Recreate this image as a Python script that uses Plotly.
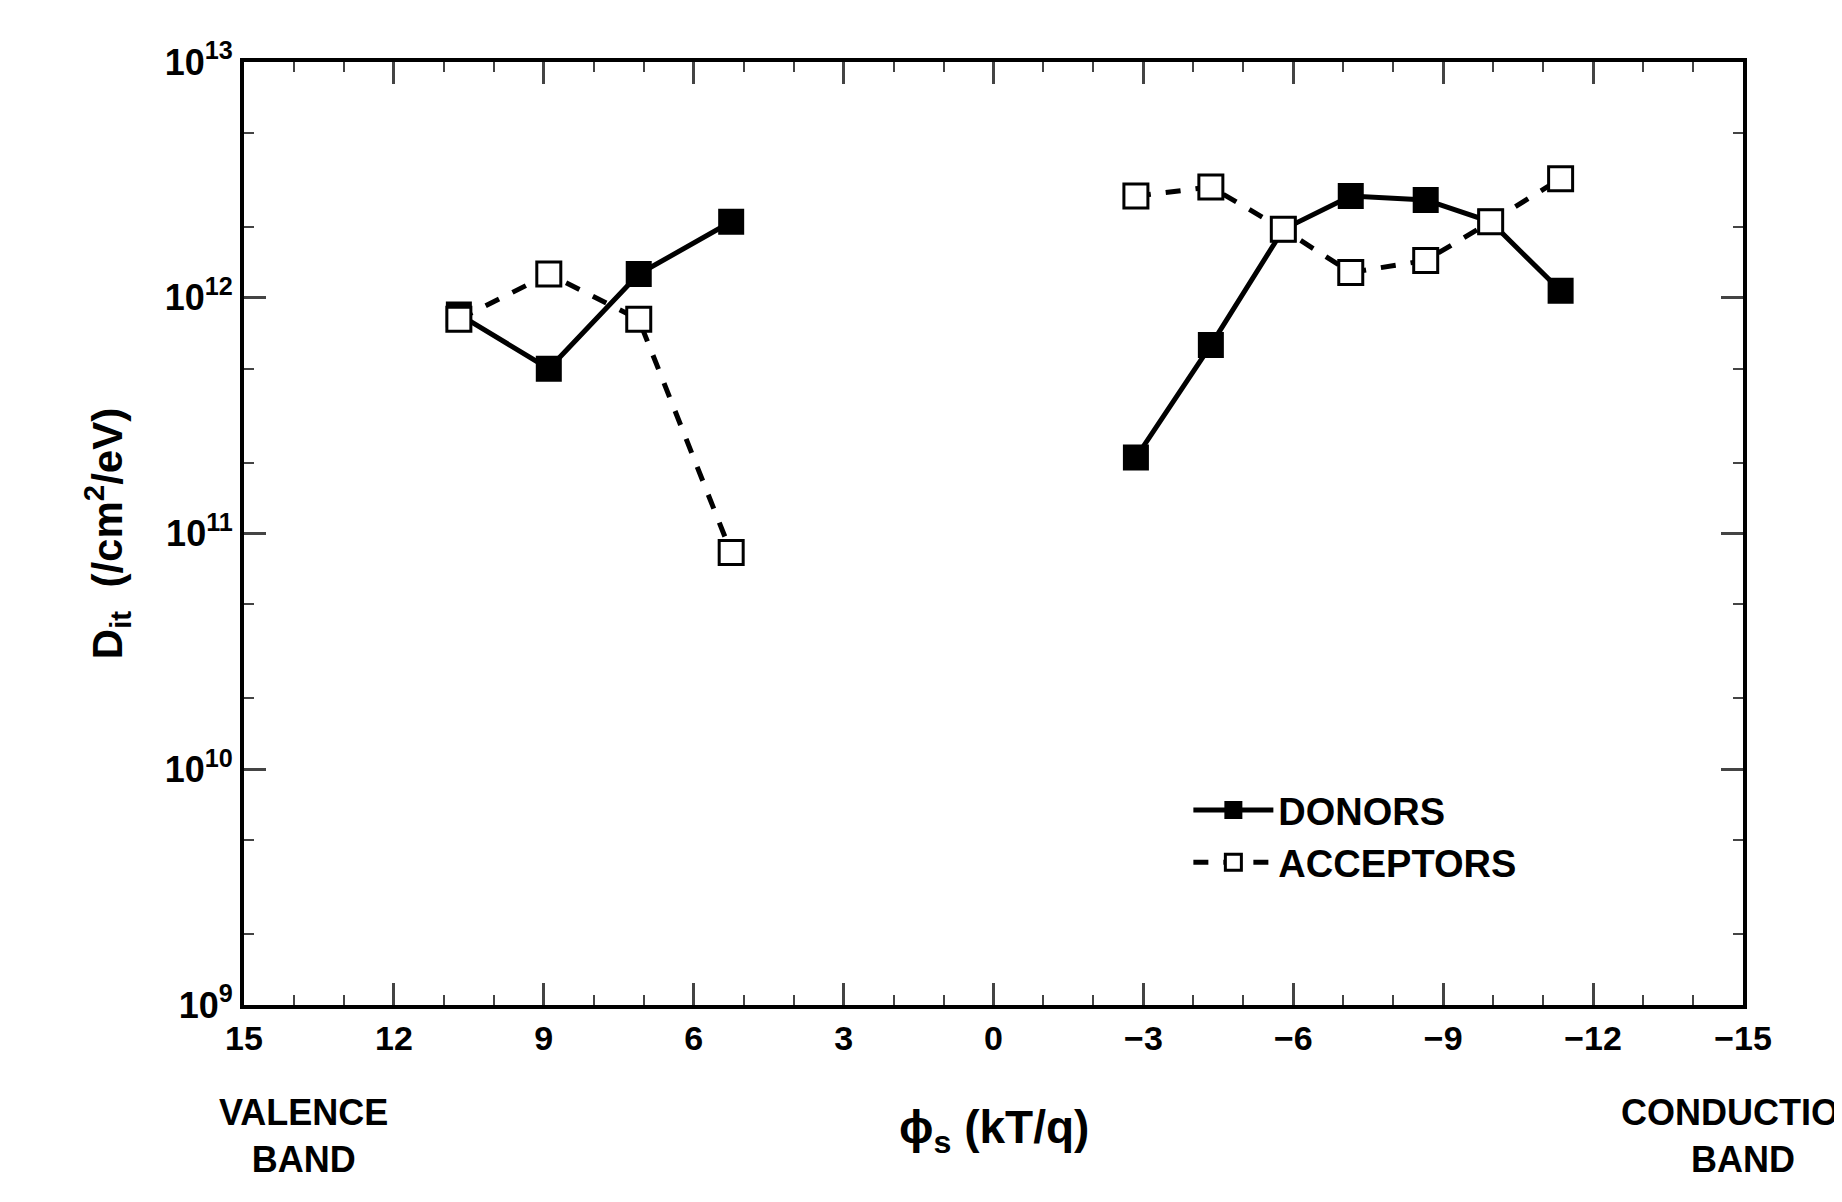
import plotly.graph_objects as go

# surface potential (kT/q) and Dit values
donor_left_x = [10.7, 8.9, 7.1, 5.25]
donor_left_y = [8.5e11, 5.0e11, 1.26e12, 2.1e12]
donor_right_x = [-2.85, -4.35, -5.8, -7.15, -8.65, -9.95, -11.35]
donor_right_y = [2.1e11, 6.3e11, 1.95e12, 2.7e12, 2.6e12, 2.1e12, 1.07e12]

acc_left_x = [10.7, 8.9, 7.1, 5.25]
acc_left_y = [8.1e11, 1.26e12, 8.1e11, 8.3e10]
acc_right_x = [-2.85, -4.35, -5.8, -7.15, -8.65, -9.95, -11.35]
acc_right_y = [2.7e12, 2.95e12, 1.95e12, 1.28e12, 1.44e12, 2.1e12, 3.2e12]

x_ticks = [15, 12, 9, 6, 3, 0, -3, -6, -9, -12, -15]
x_tick_text = ["15", "12", "9", "6", "3", "0", "\u22123", "\u22126", "\u22129", "\u221212", "\u221215"]
y_ticks = [1e9, 1e10, 1e11, 1e12, 1e13]
y_tick_text = ["10<sup>9</sup>", "10<sup>10</sup>", "10<sup>11</sup>", "10<sup>12</sup>", "10<sup>13</sup>"]

FONT = "Liberation Sans"

fig = go.Figure()
donor_style = dict(mode="lines+markers", line=dict(color="black", width=5),
                   marker=dict(symbol="square", size=24, color="black", line=dict(color="black", width=2)))
acc_style = dict(mode="lines+markers", line=dict(color="black", width=5, dash="dash"),
                 marker=dict(symbol="square", size=24, color="white", line=dict(color="black", width=3)))

fig.add_trace(go.Scatter(x=donor_left_x, y=donor_left_y, name="DONORS", **donor_style))
fig.add_trace(go.Scatter(x=donor_right_x, y=donor_right_y, showlegend=False, **donor_style))
fig.add_trace(go.Scatter(x=acc_left_x, y=acc_left_y, name="ACCEPTORS", **acc_style))
fig.add_trace(go.Scatter(x=acc_right_x, y=acc_right_y, showlegend=False, **acc_style))

fig.update_layout(
    width=1842, height=1202,
    paper_bgcolor="white", plot_bgcolor="white",
    margin=dict(l=236, r=107, t=54, b=205),
    font=dict(family=FONT, size=34, color="black"),
    legend=dict(x=0.63, y=0.24, xanchor="left", yanchor="top", itemwidth=80,
                font=dict(size=38, family=FONT, weight="bold"), bgcolor="rgba(0,0,0,0)"),
)
fig.update_xaxes(range=[15, -15], tickvals=x_ticks, ticktext=x_tick_text,
                 ticks="inside", ticklen=22, tickwidth=3, mirror="ticks",
                 showline=True, linewidth=4, linecolor="black", showgrid=False, zeroline=False,
                 tickfont=dict(size=34, family=FONT, weight="bold"),
                 minor=dict(dtick=1, ticks="inside", ticklen=10, tickwidth=2, showgrid=False))
fig.update_yaxes(type="log", range=[9, 13], tickvals=y_ticks, ticktext=y_tick_text,
                 ticks="inside", ticklen=22, tickwidth=3, mirror="ticks",
                 showline=True, linewidth=4, linecolor="black", showgrid=False,
                 tickfont=dict(size=36, family=FONT, weight="bold"),
                 minor=dict(tickvals=[2e9, 5e9, 2e10, 5e10, 2e11, 5e11, 2e12, 5e12],
                            ticks="inside", ticklen=10, tickwidth=2, showgrid=False),
                 title=dict(text="D<sub>it</sub>  (/cm<sup>2</sup>/eV)",
                            font=dict(size=42, family=FONT, weight="bold"), standoff=30))

fig.add_annotation(xref="paper", yref="paper", x=0.04, y=-0.09, xanchor="center", yanchor="top",
                   text="VALENCE<br>BAND", showarrow=False, align="center",
                   font=dict(size=36, family=FONT, weight="bold"))
fig.add_annotation(xref="paper", yref="paper", x=1.0, y=-0.09, xanchor="center", yanchor="top",
                   text="CONDUCTION<br>BAND", showarrow=False, align="center",
                   font=dict(size=36, family=FONT, weight="bold"))
fig.add_annotation(xref="paper", yref="paper", x=0.5, y=-0.1, xanchor="center", yanchor="top",
                   text="\u03d5<sub>s</sub> (kT/q)", showarrow=False,
                   font=dict(size=46, family=FONT, weight="bold"))

fig.write_html("out.html")
